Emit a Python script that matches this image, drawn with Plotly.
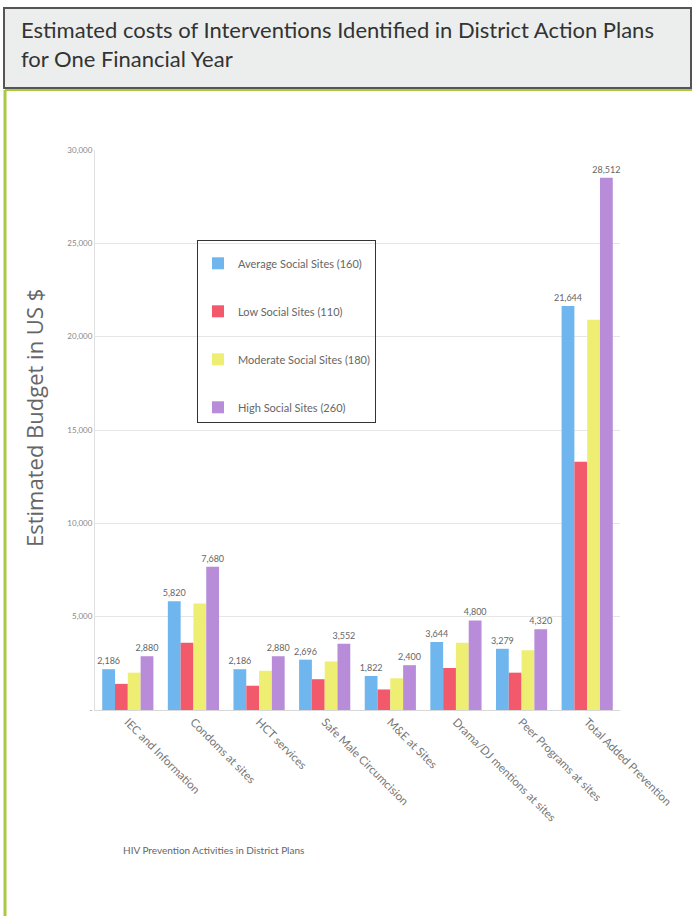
import plotly.graph_objects as go

categories = ["IEC and Information", "Condoms at sites", "HCT services", "Safe Male Circumcision",
              "M&E at Sites", "Drama/DJ mentions at sites", "Peer Programs at sites", "Total Added Prevention"]
series_names = ["Average Social Sites (160)", "Low Social Sites (110)",
                "Moderate Social Sites (180)", "High Social Sites (260)"]
avg_vals = [2186, 5820, 2186, 2696, 1822, 3644, 3279, 21644]
low_vals = [1400, 3600, 1300, 1650, 1100, 2250, 2000, 13300]
mod_vals = [2000, 5700, 2100, 2600, 1700, 3600, 3200, 20900]
high_vals = [2880, 7680, 2880, 3552, 2400, 4800, 4320, 28512]
labelled = [True, False, False, True]
colors = ["#70b6ee", "#f25a6b", "#eeee72", "#b88cd8"]
y_ticks = [0, 5000, 10000, 15000, 20000, 25000, 30000]
y_ticktext = ["-", "5,000", "10,000", "15,000", "20,000", "25,000", "30,000"]

fig = go.Figure()
for i, (name, vals) in enumerate(zip(series_names, [avg_vals, low_vals, mod_vals, high_vals])):
    fig.add_trace(go.Bar(
        x=categories, y=vals, name=name, marker_color=colors[i], marker_line_width=0,
        legendgroup=f"g{i}",
        text=[f"{v:,}" for v in vals] if labelled[i] else None,
        textposition="outside" if labelled[i] else "none",
        constraintext="none",
        textfont=dict(size=9, color="#666", family="Lato"),
        cliponaxis=False,
    ))

L, R, T, B = 95, 620, 150, 710
W, H = 692, 916
def px(x): return (x - L) / (R - L)
def py(y): return (B - y) / (B - T)

fig.update_layout(
    width=W, height=H,
    margin=dict(l=L, r=W - R, t=T, b=H - B),
    paper_bgcolor="white", plot_bgcolor="white",
    barmode="group", bargap=0.22, bargroupgap=0.0,
    font=dict(family="Lato", color="#666"),
    showlegend=True,
    legend=dict(x=px(197), y=py(240), xanchor="left", yanchor="top",
                bordercolor="#333", borderwidth=1, bgcolor="rgba(255,255,255,0)",
                font=dict(size=11, color="#666", family="Lato"),
                title=dict(text=" ", font=dict(size=6)),
                tracegroupgap=29, itemwidth=30),
    xaxis=dict(showgrid=False, showline=True, linecolor="#d8d8d8", tickangle=45,
               tickfont=dict(size=11.5, color="#777", family="Lato"), ticks=""),
    yaxis=dict(range=[0, 30000], tickvals=y_ticks, ticktext=y_ticktext,
               showgrid=True, gridcolor="#e6e6e6", showline=True, linecolor="#e0e0e0",
               zeroline=False, tickfont=dict(size=8, color="#888", family="Lato")),
    shapes=[
        dict(type="rect", xref="paper", yref="paper", x0=px(4), x1=px(691), y0=py(88), y1=py(8),
             fillcolor="#eceeee", line=dict(color="#555", width=2), layer="below"),
        dict(type="line", xref="paper", yref="paper", x0=px(5), x1=px(5), y0=py(90), y1=py(916),
             line=dict(color="#a9c843", width=3)),
        dict(type="line", xref="paper", yref="paper", x0=px(5), x1=px(692), y0=py(90), y1=py(90),
             line=dict(color="#a9c843", width=2)),
    ],
    annotations=[
        dict(xref="paper", yref="paper", x=px(19), y=py(14), xanchor="left", yanchor="top",
             text="Estimated costs of Interventions Identified in District Action Plans<br>for One Financial Year",
             showarrow=False, align="left", font=dict(size=22, color="#333", family="Lato")),
        dict(xref="paper", yref="paper", x=px(34), y=py(418), xanchor="center", yanchor="middle",
             text="Estimated Budget in US $", textangle=-90, showarrow=False,
             font=dict(size=22, color="#666", family="Open Sans")),
        dict(xref="paper", yref="paper", x=px(213), y=py(850), xanchor="center", yanchor="middle",
             text="HIV Prevention Activities in District Plans", showarrow=False,
             font=dict(size=10, color="#666", family="Lato")),
    ],
)

fig.write_html("out.html", config={"displayModeBar": False},
               post_script="document.body.style.margin='0';document.body.style.overflow='hidden';")
